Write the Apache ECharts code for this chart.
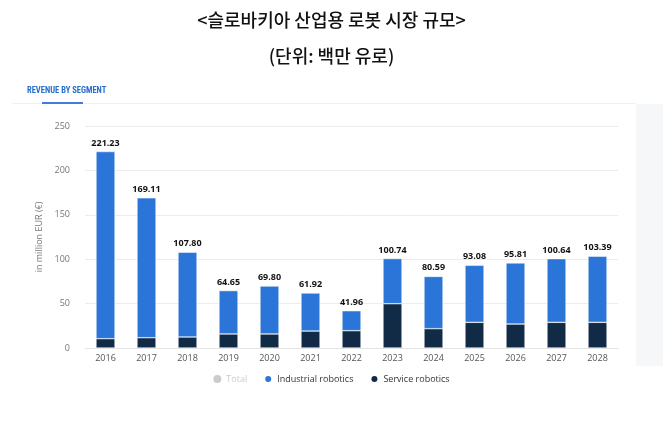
<!DOCTYPE html>
<html><head><meta charset="utf-8">
<script src="https://cdn.jsdelivr.net/npm/echarts@6/dist/echarts.min.js"></script>
<style>html,body{margin:0;padding:0;background:#fff}#c{width:663px;height:434px}</style>
</head><body><div id="c"></div>
<script>
const years = ['2016','2017','2018','2019','2020','2021','2022','2023','2024','2025','2026','2027','2028'];
const totals = [221.23,169.11,107.80,64.65,69.80,61.92,41.96,100.74,80.59,93.08,95.81,100.64,103.39];
const service = [10.5,11.6,12.4,15.8,15.8,19.1,19.5,49.9,21.8,28.9,27.0,28.9,28.9];
const industrial = totals.map((t,i)=>+(t-service[i]).toFixed(2));
const yTicks = [0,50,100,150,200,250];

const chart = echarts.init(document.getElementById('c'));
chart.setOption({
  animation:false,
  title:[
    {text:'<슬로바키아 산업용 로봇 시장 규모>',left:'center',top:6,textStyle:{fontFamily:'Noto Sans CJK KR',fontSize:18,fontWeight:500,color:'#111'}},
    {text:'(단위: 백만 유로)',left:'center',top:42,textStyle:{fontFamily:'Noto Sans CJK KR',fontSize:18,fontWeight:500,color:'#111'}},
    {text:'REVENUE BY SEGMENT',left:22,top:81,textStyle:{fontFamily:'Liberation Sans Narrow, Roboto Condensed, Roboto',fontSize:8.5,fontWeight:'bold',color:'#2a6fc9'}}
  ],
  graphic:[
    {type:'rect',shape:{x:12,y:103,width:624,height:1},style:{fill:'#eef0f3'},silent:true},
    {type:'rect',shape:{x:42,y:102,width:41,height:2},style:{fill:'#3d7fd6'},silent:true},
    {type:'rect',shape:{x:636,y:104,width:27,height:262},style:{fill:'#f6f7f9'},silent:true}
  ],
  legend:{
    bottom:45,left:'center',icon:'circle',itemWidth:8,itemHeight:8,itemGap:16,
    textStyle:{fontFamily:'Open Sans',fontSize:9,color:'#333'},
    inactiveColor:'#ccc',
    data:['Total','Industrial robotics','Service robotics'],
    selected:{'Total':false}
  },
  grid:{left:85,right:45,top:126,bottom:86},
  xAxis:{type:'category',data:years,
    axisLine:{lineStyle:{color:'#e3e3e3'}},axisTick:{show:false},
    axisLabel:{color:'#555',fontSize:9,fontFamily:'Open Sans',margin:6}},
  yAxis:{type:'value',min:0,max:250,interval:50,
    name:'in million EUR (€)',nameLocation:'middle',nameGap:34,
    nameTextStyle:{color:'#777',fontSize:9,fontFamily:'Open Sans'},
    axisLabel:{color:'#777',fontSize:9,fontFamily:'Open Sans',margin:15,
      formatter:v=>yTicks.includes(v)?String(v):''},
    splitLine:{lineStyle:{color:'#ececec'}},axisLine:{show:false},axisTick:{show:false}},
  series:[
    {name:'Total',type:'line',data:totals,showSymbol:false,lineStyle:{opacity:0},itemStyle:{color:'#c9c9c9'}},
    {name:'Service robotics',type:'bar',stack:'a',data:service,barWidth:19,
      itemStyle:{color:'#112a45',borderColor:'#fff',borderWidth:0.5}},
    {name:'Industrial robotics',type:'bar',stack:'a',data:industrial,barWidth:19,
      itemStyle:{color:'#2b75d8',borderColor:'#fff',borderWidth:0.5},
      label:{show:true,position:'top',distance:4,color:'#111',fontSize:9,fontWeight:'bold',fontFamily:'Open Sans',
        formatter:p=>totals[p.dataIndex].toFixed(2)}}
  ]
});
</script></body></html>
